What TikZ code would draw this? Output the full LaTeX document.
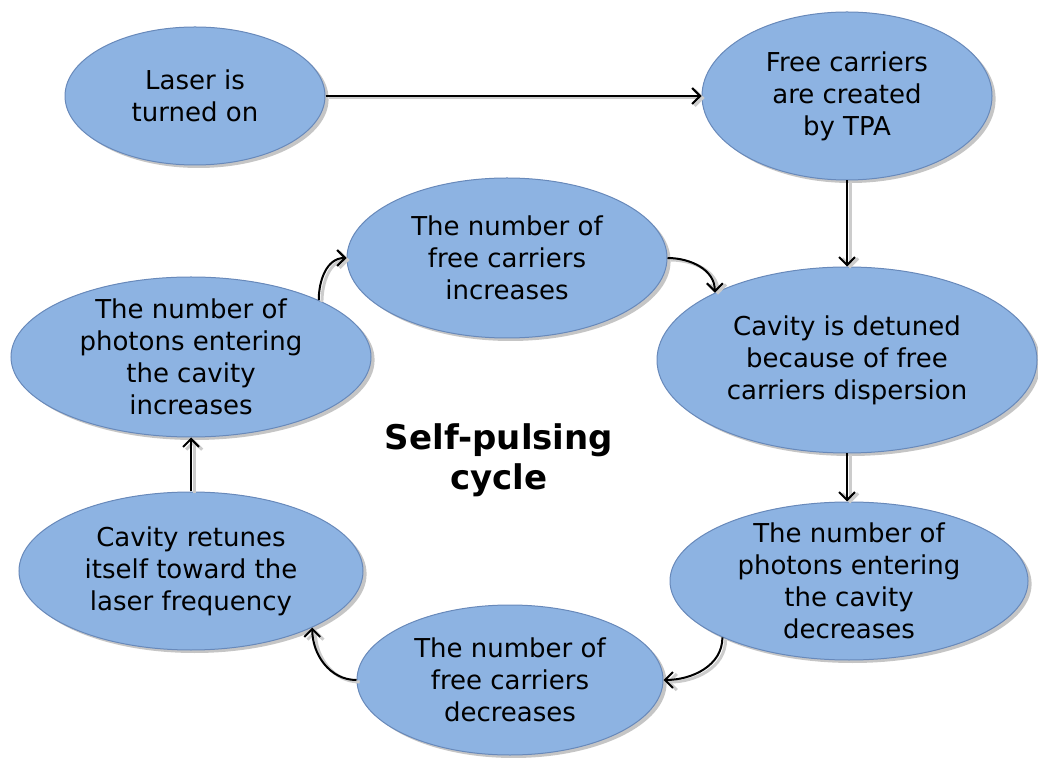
\documentclass[tikz,border=0pt]{standalone}
\usepackage{fontspec}
\setmainfont{DejaVu Sans}
\usetikzlibrary{shapes.geometric,arrows.meta,shadows}
\definecolor{bubblefill}{RGB}{141,179,226}
\definecolor{bubbleline}{RGB}{104,137,186}
\tikzset{
  bubble/.style={ellipse, draw=bubbleline, fill=bubblefill, line width=0.5pt,
    inner xsep=0pt, inner ysep=-15pt, align=center,
    font=\fontsize{13}{16}\selectfont,
    drop shadow={shadow xshift=1.8pt, shadow yshift=-1.5pt, fill=black!45, opacity=0.5}},
  flow/.style={-{Straight Barb[length=4pt,width=8pt]}, line width=1pt,
    preaction={draw=black!20, line width=1.5pt, transform canvas={xshift=1.6pt,yshift=-1pt}}}
}
\begin{document}
\begin{tikzpicture}[x=0.5pt, y=-0.5pt]
  \useasboundingbox (0,0) rectangle (1038,758);

  % start of the cycle
  \node[bubble, minimum width=130pt, minimum height=69pt] (laser) at (195,96) {Laser is\\turned on};
  \node[bubble, minimum width=145pt, minimum height=84pt] (tpa) at (847,96) {Free carriers\\are created\\by TPA};

  % the loop
  \node[bubble, minimum width=190pt, minimum height=93pt] (detuned) at (847,360) {Cavity is detuned\\because of free\\carriers dispersion};
  \node[bubble, minimum width=179pt, minimum height=79pt] (photdec) at (849,581) {The number of\\photons entering\\the cavity\\decreases};
  \node[bubble, minimum width=153pt, minimum height=75pt] (fcdec) at (510,680) {The number of\\free carriers\\decreases};
  \node[bubble, minimum width=172pt, minimum height=79pt] (retune) at (191,571) {Cavity retunes\\itself toward the\\laser frequency};
  \node[bubble, minimum width=180pt, minimum height=80pt] (photinc) at (191,357) {The number of\\photons entering\\the cavity\\increases};
  \node[bubble, minimum width=160pt, minimum height=80pt] (fcinc) at (507,258) {The number of\\free carriers\\increases};

  \node[font=\fontsize{17}{20}\selectfont\bfseries, align=center] (title) at (499,460) {Self-pulsing\\cycle};

  \draw[flow] (laser.east) -- (tpa.west);
  \draw[flow] (tpa.south) -- (detuned.north);
  \draw[flow] (detuned.south) -- (detuned.south |- photdec.north);
  \draw[flow] (photdec.204) to[out=-90, in=0] (fcdec.east);
  \draw[flow] (fcdec.west) to[out=180, in=-90] (retune.-25);
  \draw[flow] (retune.north) -- (photinc.south);
  \draw[flow] (photinc.24) to[out=90, in=180] (fcinc.west);
  \draw[flow] (fcinc.east) to[out=0, in=90] (detuned.153);
\end{tikzpicture}
\end{document}
